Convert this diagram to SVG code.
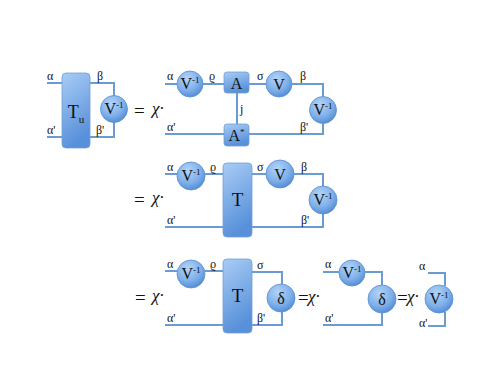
<svg xmlns="http://www.w3.org/2000/svg" width="491" height="379" viewBox="0 0 491 379">
<defs>
<radialGradient id="gc" cx="0.4" cy="0.3" r="0.75">
<stop offset="0" stop-color="#b3d4f7"/>
<stop offset="0.6" stop-color="#7fb0ea"/>
<stop offset="1" stop-color="#4f87d2"/>
</radialGradient>
<linearGradient id="gb" x1="0" y1="0" x2="0.3" y2="1">
<stop offset="0" stop-color="#a9cdf5"/>
<stop offset="1" stop-color="#5890da"/>
</linearGradient>
</defs>
<style>
.w{fill:none;stroke:#6a9bd3;stroke-width:2}
.c{fill:url(#gc);stroke:#5b8fd0;stroke-width:0.8}
.b{fill:url(#gb);stroke:#6f9fd8;stroke-width:0.8}
text{font-family:"Liberation Serif","DejaVu Serif",serif;fill:#111}
.l{font-size:12px}
.n{font-size:16px;text-anchor:middle}
.e{font-size:19px}
.x{font-size:17px;font-style:italic}
</style>
<rect width="491" height="379" fill="#fff"/>
<g id="connectors">
<path class="w" d="M47 83H62M47 137H62M90 83H114V96M90 137H114V122"/>
<path class="w" d="M165 84H177M203 84H224M249 84H266M292 84H323V97M165 134H323V123M237 93V124"/>
<path class="w" d="M165 174H177M205 174H223M252 174H267M294 174H323V187M165 227H323V214"/>
<path class="w" d="M165 271H177M205 271H223M252 272H282V284M165 325H282V312"/>
<path class="w" d="M323 272H339M365 272H382V285M323 325H382V313"/>
<path class="w" d="M428 273H445V286M428 326H445V312"/>
</g>
<g id="Tu"><rect class="b" x="62" y="73" width="28" height="75" rx="4"/><text x="76" y="118" class="n" style="font-size:18px">T<tspan font-size="11" dy="5">u</tspan></text></g>
<g id="V1a"><circle class="c" cx="114" cy="109" r="13.5"/><text x="114" y="114" class="n">V<tspan font-size="9" dy="-6">-1</tspan></text></g>
<g id="V1b"><circle class="c" cx="190" cy="84" r="13"/><text x="190" y="89" class="n">V<tspan font-size="9" dy="-6">-1</tspan></text></g>
<g id="A"><rect class="b" x="224" y="72" width="25" height="21" rx="3"/><text x="236.5" y="88.5" class="n">A</text></g>
<g id="Astar"><rect class="b" x="224" y="124" width="25" height="22" rx="3"/><text x="236.5" y="140.5" class="n">A<tspan font-size="9" dy="-6">*</tspan></text></g>
<g id="V1c"><circle class="c" cx="279" cy="84" r="13"/><text x="279" y="89.5" class="n">V</text></g>
<g id="V1d"><circle class="c" cx="323" cy="110" r="13.5"/><text x="323" y="115" class="n">V<tspan font-size="9" dy="-6">-1</tspan></text></g>
<g id="row1labels">
<text class="l" x="47" y="80">α</text><text class="l" x="47" y="134">α'</text>
<text class="l" x="97" y="80">β</text><text class="l" x="96" y="134">β'</text>
<text class="e" x="134" y="117">=</text><text class="x" x="152" y="114">χ·</text>
<text class="l" x="167" y="80">α</text><text class="l" x="209" y="80">ϱ</text>
<text class="l" x="257" y="80">σ</text><text class="l" x="300" y="80">β</text>
<text class="l" x="240" y="113">j</text>
<text class="l" x="167" y="131">α'</text><text class="l" x="300" y="131">β'</text>
</g>
<g id="V2a"><circle class="c" cx="191" cy="176" r="14"/><text x="191" y="181" class="n">V<tspan font-size="9" dy="-6">-1</tspan></text></g>
<g id="T2"><rect class="b" x="223" y="163" width="29" height="74" rx="4"/><text x="237.5" y="206" class="n" style="font-size:19px">T</text></g>
<g id="V2b"><circle class="c" cx="280" cy="174" r="14"/><text x="280" y="179.5" class="n">V</text></g>
<g id="V2c"><circle class="c" cx="323" cy="200" r="14"/><text x="323" y="205" class="n">V<tspan font-size="9" dy="-6">-1</tspan></text></g>
<g id="row2labels">
<text class="e" x="134" y="206">=</text><text class="x" x="152" y="203">χ·</text>
<text class="l" x="167" y="171">α</text><text class="l" x="210" y="171">ϱ</text>
<text class="l" x="257" y="171">σ</text><text class="l" x="301" y="171">β</text>
<text class="l" x="167" y="224">α'</text><text class="l" x="301" y="224">β'</text>
</g>
<g id="V3a"><circle class="c" cx="191" cy="274" r="14"/><text x="191" y="279" class="n">V<tspan font-size="9" dy="-6">-1</tspan></text></g>
<g id="T3"><rect class="b" x="223" y="259" width="29" height="74" rx="4"/><text x="237.5" y="302" class="n" style="font-size:19px">T</text></g>
<g id="D3a"><circle class="c" cx="281" cy="298" r="14"/><text x="281" y="303.5" class="n">δ</text></g>
<g id="V3b"><circle class="c" cx="352" cy="273" r="13"/><text x="352" y="278" class="n">V<tspan font-size="9" dy="-6">-1</tspan></text></g>
<g id="D3b"><circle class="c" cx="382" cy="299" r="14"/><text x="382" y="304.5" class="n">δ</text></g>
<g id="V3c"><circle class="c" cx="439" cy="299" r="14"/><text x="439" y="304" class="n">V<tspan font-size="9" dy="-6">-1</tspan></text></g>
<g id="row3labels">
<text class="e" x="135" y="304">=</text><text class="x" x="152" y="301">χ·</text>
<text class="l" x="167" y="268">α</text><text class="l" x="210" y="268">ϱ</text>
<text class="l" x="257" y="269">σ</text><text class="l" x="257" y="322">β'</text>
<text class="l" x="167" y="322">α'</text>
<text class="e" x="298" y="304">=</text><text class="x" x="308" y="302">χ·</text>
<text class="l" x="325" y="268">α</text><text class="l" x="325" y="322">α'</text>
<text class="e" x="397" y="304">=</text><text class="x" x="407" y="302">χ·</text>
<text class="l" x="419" y="270">α</text><text class="l" x="419" y="327">α'</text>
</g>
</svg>
